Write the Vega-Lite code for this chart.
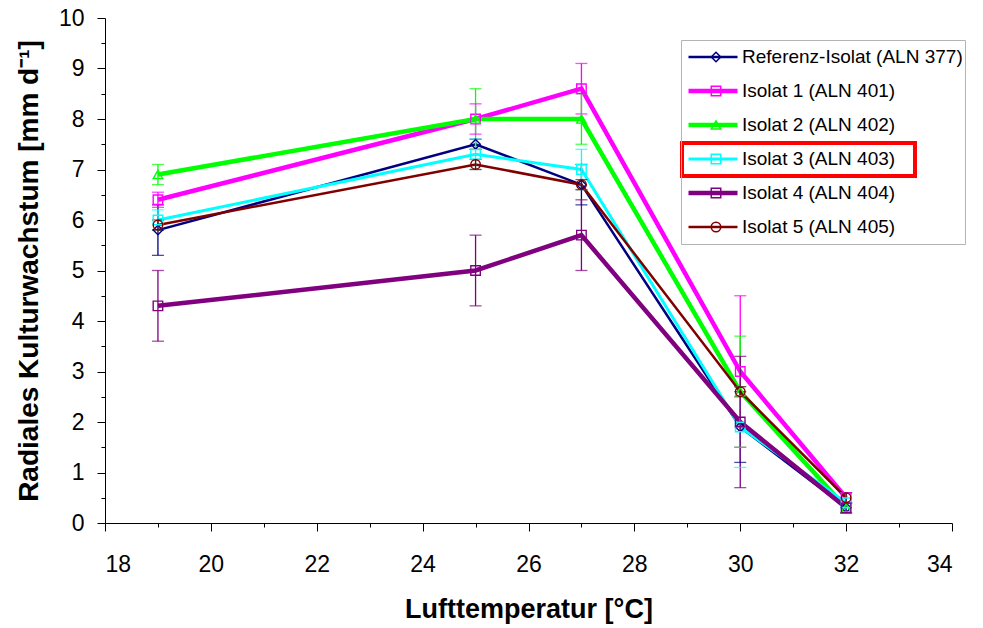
{
  "$schema": "https://vega.github.io/schema/vega-lite/v6.json",
  "width": 847,
  "height": 505,
  "autosize": {"type": "none"},
  "padding": {"left": 105, "top": 18, "right": 31, "bottom": 105},
  "background": "white",
  "config": {
    "view": {"stroke": null},
    "font": "Liberation Sans",
    "axis": {"grid": false, "domainColor": "black", "domainWidth": 1, "tickColor": "black", "tickWidth": 1, "labelColor": "black", "titleColor": "black", "labelFont": "Liberation Sans", "titleFont": "Liberation Sans"}
  },
  "data": {
    "values": [
      {"series": "Referenz-Isolat (ALN 377)", "temp": 19, "mean": 5.8, "lo": 5.3, "hi": 6.3},
      {"series": "Referenz-Isolat (ALN 377)", "temp": 25, "mean": 7.5, "lo": 7.4, "hi": 7.6},
      {"series": "Referenz-Isolat (ALN 377)", "temp": 27, "mean": 6.7, "lo": 6.3, "hi": 7.1},
      {"series": "Referenz-Isolat (ALN 377)", "temp": 30, "mean": 1.9, "lo": 1.2, "hi": 2.6},
      {"series": "Referenz-Isolat (ALN 377)", "temp": 32, "mean": 0.3, "lo": 0.2, "hi": 0.4},
      {"series": "Isolat 1 (ALN 401)", "temp": 19, "mean": 6.4, "lo": 6.25, "hi": 6.55},
      {"series": "Isolat 1 (ALN 401)", "temp": 25, "mean": 8.0, "lo": 7.7, "hi": 8.3},
      {"series": "Isolat 1 (ALN 401)", "temp": 27, "mean": 8.6, "lo": 8.1, "hi": 9.1},
      {"series": "Isolat 1 (ALN 401)", "temp": 30, "mean": 3.0, "lo": 1.5, "hi": 4.5},
      {"series": "Isolat 1 (ALN 401)", "temp": 32, "mean": 0.5, "lo": 0.4, "hi": 0.6},
      {"series": "Isolat 2 (ALN 402)", "temp": 19, "mean": 6.9, "lo": 6.7, "hi": 7.1},
      {"series": "Isolat 2 (ALN 402)", "temp": 25, "mean": 8.0, "lo": 7.4, "hi": 8.6},
      {"series": "Isolat 2 (ALN 402)", "temp": 27, "mean": 8.0, "lo": 7.5, "hi": 8.5},
      {"series": "Isolat 2 (ALN 402)", "temp": 30, "mean": 2.6, "lo": 1.5, "hi": 3.7},
      {"series": "Isolat 2 (ALN 402)", "temp": 32, "mean": 0.3, "lo": 0.2, "hi": 0.4},
      {"series": "Isolat 3 (ALN 403)", "temp": 19, "mean": 6.0, "lo": 5.8, "hi": 6.2},
      {"series": "Isolat 3 (ALN 403)", "temp": 25, "mean": 7.3, "lo": 7.0, "hi": 7.6},
      {"series": "Isolat 3 (ALN 403)", "temp": 27, "mean": 7.0, "lo": 6.6, "hi": 7.4},
      {"series": "Isolat 3 (ALN 403)", "temp": 30, "mean": 1.9, "lo": 1.1, "hi": 2.7},
      {"series": "Isolat 3 (ALN 403)", "temp": 32, "mean": 0.4, "lo": 0.3, "hi": 0.6},
      {"series": "Isolat 4 (ALN 404)", "temp": 19, "mean": 4.3, "lo": 3.6, "hi": 5.0},
      {"series": "Isolat 4 (ALN 404)", "temp": 25, "mean": 5.0, "lo": 4.3, "hi": 5.7},
      {"series": "Isolat 4 (ALN 404)", "temp": 27, "mean": 5.7, "lo": 5.0, "hi": 6.4},
      {"series": "Isolat 4 (ALN 404)", "temp": 30, "mean": 2.0, "lo": 0.7, "hi": 3.3},
      {"series": "Isolat 4 (ALN 404)", "temp": 32, "mean": 0.3, "lo": 0.2, "hi": 0.4},
      {"series": "Isolat 5 (ALN 405)", "temp": 19, "mean": 5.9, "lo": 5.8, "hi": 6.0},
      {"series": "Isolat 5 (ALN 405)", "temp": 25, "mean": 7.1, "lo": 7.0, "hi": 7.2},
      {"series": "Isolat 5 (ALN 405)", "temp": 27, "mean": 6.7, "lo": 6.6, "hi": 6.8},
      {"series": "Isolat 5 (ALN 405)", "temp": 30, "mean": 2.6, "lo": 2.5, "hi": 2.7},
      {"series": "Isolat 5 (ALN 405)", "temp": 32, "mean": 0.5, "lo": 0.4, "hi": 0.6}
    ]
  },
  "resolve": {"axis": {"x": "independent", "y": "independent"}, "scale": {"color": "independent", "shape": "independent", "strokeWidth": "independent"}},
  "layer": [
    {
      "mark": {"type": "rect", "fill": "transparent", "stroke": "#ff0000", "strokeWidth": 3},
      "encoding": {
        "x": {"datum": 28.9, "type": "quantitative", "axis": null, "scale": {"domain": [18, 34], "nice": false, "zero": false}},
        "x2": {"datum": 33.3},
        "y": {"datum": 7.52, "type": "quantitative", "axis": null, "scale": {"domain": [0, 10], "nice": false}},
        "y2": {"datum": 6.87}
      }
    },
    {
      "mark": {"type": "line", "strokeJoin": "miter"},
      "encoding": {
        "x": {"field": "temp", "type": "quantitative", "scale": {"domain": [18, 34], "nice": false, "zero": false},
          "axis": {"values": [18, 20, 22, 24, 26, 28, 30, 32, 34], "tickSize": 8, "labelFontSize": 23, "labelPadding": 22, "title": "Lufttemperatur [°C]", "titleFontSize": 27, "titleFontWeight": "bold", "titlePadding": 20, "orient": "bottom"}},
        "y": {"field": "mean", "type": "quantitative", "scale": {"domain": [0, 10], "nice": false, "zero": true},
          "axis": {"values": [0, 1, 2, 3, 4, 5, 6, 7, 8, 9, 10], "tickSize": 8, "labelFontSize": 23, "labelPadding": 13, "title": "Radiales Kulturwachstum [mm d⁻¹]", "titleFontSize": 28, "titleFontWeight": "bold", "titlePadding": 15, "orient": "left"}},
        "color": {"field": "series", "type": "nominal",
          "scale": {"domain": ["Referenz-Isolat (ALN 377)", "Isolat 1 (ALN 401)", "Isolat 2 (ALN 402)", "Isolat 3 (ALN 403)", "Isolat 4 (ALN 404)", "Isolat 5 (ALN 405)"],
            "range": ["#000080", "#ff00ff", "#00ff00", "#00ffff", "#800080", "#800000"]},
          "legend": {"orient": "none", "legendX": 576, "legendY": 22, "title": null, "symbolType": "stroke", "symbolSize": 2401, "symbolStrokeWidth": 3, "clipHeight": 30, "rowPadding": 4, "padding": 2, "symbolOffset": 3, "labelOffset": 2, "labelFontSize": 19, "labelLimit": 400, "labelFont": "Liberation Sans", "labelColor": "black", "strokeColor": "#b4b4b4"}},
        "strokeWidth": {"field": "series", "type": "nominal",
          "scale": {"type": "ordinal", "domain": ["Referenz-Isolat (ALN 377)", "Isolat 1 (ALN 401)", "Isolat 2 (ALN 402)", "Isolat 3 (ALN 403)", "Isolat 4 (ALN 404)", "Isolat 5 (ALN 405)"], "range": [2.5, 4.5, 4.5, 3, 4.5, 2.5]},
          "legend": {"orient": "none", "legendX": 576, "legendY": 22, "title": null, "symbolType": "stroke"}}
      }
    },
    {
      "mark": {"type": "rule", "strokeWidth": 1.3},
      "encoding": {
        "x": {"field": "temp", "type": "quantitative", "scale": {"domain": [18, 34], "nice": false, "zero": false},
          "axis": {"values": [19, 21, 23, 25, 27, 29, 31, 33], "tickSize": 4, "labels": false, "domain": false, "title": null, "orient": "bottom"}},
        "y": {"field": "lo", "type": "quantitative", "scale": {"domain": [0, 10], "nice": false},
          "axis": {"values": [0.5, 1.5, 2.5, 3.5, 4.5, 5.5, 6.5, 7.5, 8.5, 9.5], "tickSize": 4, "labels": false, "domain": false, "title": null, "orient": "left"}},
        "y2": {"field": "hi"},
        "color": {"field": "series", "type": "nominal", "legend": null,
          "scale": {"domain": ["Referenz-Isolat (ALN 377)", "Isolat 1 (ALN 401)", "Isolat 2 (ALN 402)", "Isolat 3 (ALN 403)", "Isolat 4 (ALN 404)", "Isolat 5 (ALN 405)"],
            "range": ["#000080", "#ff00ff", "#00ff00", "#00ffff", "#800080", "#800000"]}}
      }
    },
    {
      "mark": {"type": "tick", "orient": "horizontal", "size": 12, "thickness": 1.3},
      "encoding": {
        "x": {"field": "temp", "type": "quantitative", "axis": null},
        "y": {"field": "lo", "type": "quantitative", "axis": null},
        "color": {"field": "series", "type": "nominal", "legend": null,
          "scale": {"domain": ["Referenz-Isolat (ALN 377)", "Isolat 1 (ALN 401)", "Isolat 2 (ALN 402)", "Isolat 3 (ALN 403)", "Isolat 4 (ALN 404)", "Isolat 5 (ALN 405)"],
            "range": ["#000080", "#ff00ff", "#00ff00", "#00ffff", "#800080", "#800000"]}}
      }
    },
    {
      "mark": {"type": "tick", "orient": "horizontal", "size": 12, "thickness": 1.3},
      "encoding": {
        "x": {"field": "temp", "type": "quantitative", "axis": null},
        "y": {"field": "hi", "type": "quantitative", "axis": null},
        "color": {"field": "series", "type": "nominal", "legend": null,
          "scale": {"domain": ["Referenz-Isolat (ALN 377)", "Isolat 1 (ALN 401)", "Isolat 2 (ALN 402)", "Isolat 3 (ALN 403)", "Isolat 4 (ALN 404)", "Isolat 5 (ALN 405)"],
            "range": ["#000080", "#ff00ff", "#00ff00", "#00ffff", "#800080", "#800000"]}}
      }
    },
    {
      "mark": {"type": "point", "filled": false, "size": 90, "strokeWidth": 1.4, "opacity": 1},
      "encoding": {
        "x": {"field": "temp", "type": "quantitative", "axis": null},
        "y": {"field": "mean", "type": "quantitative", "axis": null},
        "color": {"field": "series", "type": "nominal",
          "scale": {"domain": ["Referenz-Isolat (ALN 377)", "Isolat 1 (ALN 401)", "Isolat 2 (ALN 402)", "Isolat 3 (ALN 403)", "Isolat 4 (ALN 404)", "Isolat 5 (ALN 405)"],
            "range": ["#000080", "#ff00ff", "#00ff00", "#00ffff", "#800080", "#800000"]},
          "legend": {"orient": "none", "legendX": 576, "legendY": 22, "title": null, "symbolSize": 90, "symbolStrokeWidth": 1.5, "clipHeight": 30, "rowPadding": 4, "padding": 2, "symbolOffset": 23.5, "labelOffset": 2, "labelFontSize": 19, "labelExpr": "''"}},
        "shape": {"field": "series", "type": "nominal",
          "scale": {"domain": ["Referenz-Isolat (ALN 377)", "Isolat 1 (ALN 401)", "Isolat 2 (ALN 402)", "Isolat 3 (ALN 403)", "Isolat 4 (ALN 404)", "Isolat 5 (ALN 405)"],
            "range": ["diamond", "square", "triangle-up", "square", "square", "circle"]},
          "legend": {"orient": "none", "legendX": 576, "legendY": 22, "title": null, "symbolSize": 90, "symbolStrokeWidth": 1.5, "clipHeight": 30, "rowPadding": 4, "padding": 2, "symbolOffset": 23.5, "labelOffset": 2, "labelFontSize": 19, "labelExpr": "''"}}
      }
    }
  ]
}
